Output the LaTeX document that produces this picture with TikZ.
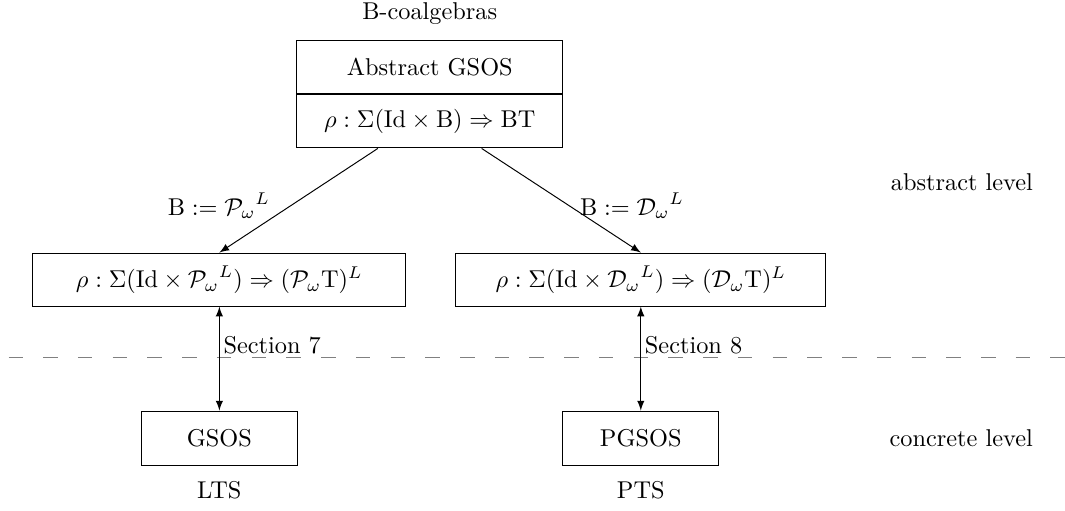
\documentclass[tikz,border=0pt]{standalone}
\usepackage{tikz}
\usetikzlibrary{positioning}
\usepackage{amsmath, amssymb}
\colorlet{dashGray}{gray}

\begin{document}
\begin{tikzpicture}[auto, >=latex]
		\tikzset{
			box/.style = {draw, rectangle, minimum height = 0.766cm, inner sep = 3pt},
			lvl/.style = {inner sep = 2pt}
		}
		\useasboundingbox (0, 0) rectangle (15.39, -7.37);
		%%%%%%%%%%%%%
		\node (coalg) at (6.21, -0.20) {B-coalgebras};
		\node[box, minimum width = 3.84cm] (absTop) at (6.21, -0.975) {Abstract GSOS};
		\node[box, minimum width = 3.84cm, below = 0pt of absTop] (absBot) {$\rho : \Sigma(\mathrm{Id} \times \mathrm{B}) \Rightarrow \mathrm{BT}$};
		\node[box, minimum width = 5.39cm] (lft) at (3.17, -4.04) {$\rho : \Sigma(\mathrm{Id} \times {\mathcal{P}_{\omega}}^{L}) \Rightarrow (\mathcal{P}_{\omega}\mathrm{T})^{L}$};
		\node[box, minimum width = 5.35cm] (rgt) at (9.26, -4.04) {$\rho : \Sigma(\mathrm{Id} \times {\mathcal{D}_{\omega}}^{L}) \Rightarrow (\mathcal{D}_{\omega}\mathrm{T})^{L}$};
		\node[box, minimum width = 2.25cm, minimum height = 0.78cm] (gsos) at (3.17, -6.33) {GSOS};
		\node[box, minimum width = 2.25cm, minimum height = 0.78cm] (pgsos) at (9.26, -6.33) {PGSOS};
		\node (lts) at (3.17, -7.08) {LTS};
		\node (pts) at (9.26, -7.08) {PTS};
		\node[lvl] (absLvl) at (13.90, -2.63) {abstract level};
		\node[lvl] (conLvl) at (13.89, -6.33) {concrete level};
		\coordinate (dashL) at (0, -5.17);
		\coordinate (dashR) at (15.39, -5.17);
		%%%%%%%%%%%%%
		\draw [dashGray, dash pattern = on 5.97pt off 8.31pt, dash phase = 10.78pt] (dashL) to (dashR);
		\draw [->] ([xshift = -0.75cm]absBot.south) to node[pos = 0.55, left = 5pt] {$\mathrm{B} := {\mathcal{P}_{\omega}}^{L}$} (lft.north);
		\draw [->] ([xshift = 0.75cm]absBot.south) to node[pos = 0.55, right = 1pt] {$\mathrm{B} := {\mathcal{D}_{\omega}}^{L}$} (rgt.north);
		\draw [<->] (lft.south) to node[pos = 0.37, right = 0pt, inner sep = 1.5pt] {Section 7} (gsos.north);
		\draw [<->] (rgt.south) to node[pos = 0.37, right = 0pt, inner sep = 1.5pt] {Section 8} (pgsos.north);
\end{tikzpicture}
\end{document}
